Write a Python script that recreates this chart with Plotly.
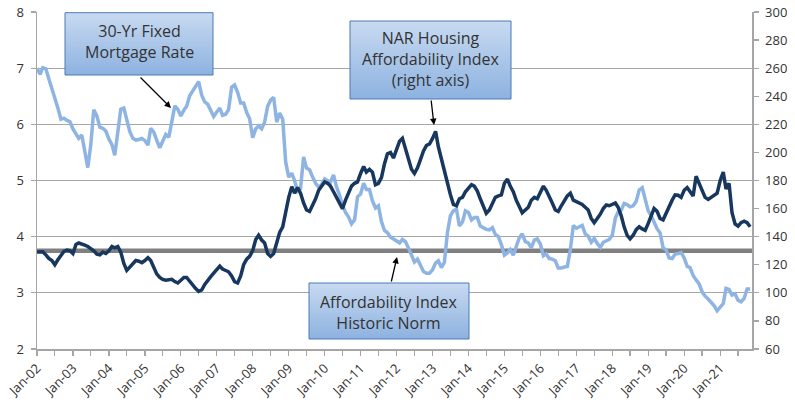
import pandas as pd
import plotly.graph_objects as go

# ---------------- data ----------------
START_MONTH = "2002-01-01"

MORTGAGE_RATE = [
    7.00, 6.89, 7.01, 6.99, 6.81, 6.65, 6.49, 6.29, 6.09, 6.11, 6.07, 6.05,   # 2002
    5.92, 5.84, 5.75, 5.81, 5.48, 5.23, 5.63, 6.26, 6.15, 5.95, 5.93, 5.88,   # 2003
    5.74, 5.64, 5.45, 5.83, 6.27, 6.29, 6.06, 5.87, 5.75, 5.72, 5.73, 5.75,   # 2004
    5.71, 5.63, 5.93, 5.86, 5.72, 5.58, 5.70, 5.82, 5.77, 6.07, 6.33, 6.27,   # 2005
    6.15, 6.25, 6.32, 6.51, 6.60, 6.68, 6.76, 6.52, 6.40, 6.36, 6.24, 6.14,   # 2006
    6.22, 6.29, 6.16, 6.18, 6.26, 6.66, 6.70, 6.57, 6.38, 6.38, 6.21, 6.10,   # 2007
    5.76, 5.92, 5.97, 5.92, 6.04, 6.32, 6.43, 6.48, 6.04, 6.20, 6.09, 5.33,   # 2008
    5.06, 5.13, 5.00, 4.81, 4.86, 5.42, 5.22, 5.19, 5.06, 4.95, 4.88, 4.93,   # 2009
    5.03, 4.99, 4.97, 5.10, 4.89, 4.74, 4.56, 4.43, 4.35, 4.23, 4.30, 4.71,   # 2010
    4.76, 4.95, 4.84, 4.84, 4.64, 4.51, 4.55, 4.27, 4.11, 4.07, 3.99, 3.96,   # 2011
    3.92, 3.89, 3.95, 3.91, 3.80, 3.68, 3.55, 3.60, 3.50, 3.38, 3.35, 3.35,   # 2012
    3.41, 3.53, 3.57, 3.45, 3.54, 4.07, 4.37, 4.46, 4.49, 4.19, 4.26, 4.46,   # 2013
    4.43, 4.30, 4.34, 4.34, 4.19, 4.16, 4.13, 4.12, 4.16, 4.04, 4.00, 3.86,   # 2014
    3.67, 3.71, 3.77, 3.67, 3.84, 3.98, 4.05, 3.91, 3.89, 3.80, 3.94, 3.96,   # 2015
    3.87, 3.66, 3.69, 3.61, 3.60, 3.57, 3.44, 3.44, 3.46, 3.47, 3.77, 4.20,   # 2016
    4.15, 4.17, 4.20, 4.05, 4.01, 3.90, 3.97, 3.88, 3.81, 3.90, 3.92, 3.95,   # 2017
    4.03, 4.33, 4.44, 4.47, 4.59, 4.57, 4.53, 4.55, 4.63, 4.83, 4.87, 4.64,   # 2018
    4.46, 4.37, 4.27, 4.14, 4.07, 3.80, 3.77, 3.62, 3.61, 3.69, 3.70, 3.72,   # 2019
    3.62, 3.47, 3.45, 3.31, 3.23, 3.16, 3.02, 2.94, 2.89, 2.83, 2.77, 2.68,   # 2020
    2.74, 2.81, 3.08, 3.06, 2.96, 2.98, 2.87, 2.84, 2.90, 3.07, 3.07,         # 2021
]

AFFORDABILITY_INDEX = [
    129, 129, 129.3, 127, 124.5, 123, 120, 123.5, 126.5, 129.5, 130.5, 130,   # 2002
    128, 134.5, 135.5, 135, 134, 133, 131.5, 130, 127.5, 127, 129, 128,       # 2003
    130, 133, 132, 133, 129, 121, 116, 118.6, 121, 123, 122.5, 121.5,         # 2004
    123, 125, 123, 118, 113.5, 111, 109.5, 109, 109.3, 109.6, 108, 107,       # 2005
    109, 111, 111, 108, 105, 103, 101, 102, 106, 109, 111.5, 114,             # 2006
    117, 119, 117, 116, 115, 112, 108, 107, 112, 120, 124, 126,               # 2007
    130, 138, 141, 137.6, 135.5, 128, 126, 128, 136, 143, 147, 158,           # 2008
    168, 175.6, 171, 175, 171, 164, 159, 158, 162, 167, 173, 176,             # 2009
    179, 178, 176, 172, 168, 164, 160, 166, 171, 176, 178, 179,               # 2010
    185, 190, 186, 188, 186, 177, 178, 182, 192, 199, 200, 196,               # 2011
    202, 208, 210, 203, 196, 188, 185, 189, 195, 201, 205, 206,               # 2012
    210, 215, 204, 195, 186, 178, 170, 163, 162, 167, 168, 172,               # 2013
    175, 177, 176, 172.5, 167, 162, 156.6, 159, 164, 168, 169, 169.7,         # 2014
    178, 181, 176, 172, 166, 161, 157, 159, 161, 166, 168, 167,               # 2015
    171, 176, 173, 169, 164, 159, 158, 162, 166, 169, 171, 166,               # 2016
    165, 164, 163, 161, 159, 153, 150, 153, 156, 160, 162.5, 162,             # 2017
    163, 164, 161, 155, 147, 141, 138.5, 141, 145, 147, 145.5, 144.5,         # 2018
    149.5, 156, 160, 158, 153, 152, 157, 162, 166, 169.7, 169.5, 168,         # 2019
    173, 175, 172, 169, 183, 178, 173, 168, 166.5, 168, 169, 171,             # 2020
    180, 186, 174, 178, 157, 149, 147.5, 150, 151, 150, 147,                  # 2021
]

HISTORIC_NORM = 130  # right axis

X_RANGE = ["2002-01-01", "2021-11-20"]
LEFT_RANGE = [2, 8]
RIGHT_RANGE = [60, 300]

MONTHS = pd.date_range(START_MONTH, periods=len(MORTGAGE_RATE), freq="MS")

# ---------------- styling ----------------
DARK = "#17375E"
LIGHT = "#8DB4E2"
NORM_GRAY = "#808080"
GRID = "#A6A6A6"
TEXT = "#333333"
FONT = "Open Sans"

W, H = 795, 403
ML, MR, MT, MB = 37, 43, 12, 54

fig = go.Figure()

fig.add_trace(go.Scatter(
    x=MONTHS, y=MORTGAGE_RATE, mode="lines",
    line=dict(color=LIGHT, width=3.5), name="30-Yr Fixed Mortgage Rate",
    hoverinfo="skip"))

fig.add_trace(go.Scatter(
    x=MONTHS, y=AFFORDABILITY_INDEX, mode="lines", yaxis="y2",
    line=dict(color=DARK, width=3.5), name="NAR Housing Affordability Index",
    hoverinfo="skip"))

fig.add_shape(type="line", xref="paper", x0=0, x1=1, yref="y2",
              y0=HISTORIC_NORM, y1=HISTORIC_NORM,
              line=dict(color=NORM_GRAY, width=4.5), layer="below")

# --- callout boxes drawn in an overlay pixel space (x: px from left, y: px from bottom)
BOXES = [
    dict(x0=65, x1=213, y0=403 - 75, y1=403 - 12.7),
    dict(x0=350, x1=511, y0=403 - 99, y1=403 - 21),
    dict(x0=309, x1=469, y0=403 - 339, y1=403 - 283),
]
for b in BOXES:
    fig.add_trace(go.Scatter(
        x=[b["x0"], b["x1"], b["x1"], b["x0"], b["x0"]],
        y=[b["y0"], b["y0"], b["y1"], b["y1"], b["y0"]],
        xaxis="x3", yaxis="y3", mode="lines", fill="toself",
        fillgradient=dict(type="vertical",
                          colorscale=[[0, "#8DB2E0"], [1, "#C8DAF1"]]),
        line=dict(color="#4A7AB5", width=1), hoverinfo="skip",
        showlegend=False, cliponaxis=False))

LABELS = [
    ("30-Yr Fixed<br>Mortgage Rate", 139, 403 - 41.5),
    ("NAR Housing<br>Affordability Index<br>(right axis)", 430.5, 403 - 58.5),
    ("Affordability Index<br>Historic Norm", 389, 403 - 312),
]
annotations = []
for t, x, y in LABELS:
    annotations.append(dict(text=t, x=x, y=y, xref="x3", yref="y3",
                            showarrow=False, xanchor="center", yanchor="middle",
                            align="center",
                            font=dict(family=FONT, size=16, color=TEXT)))

ARROWS = [  # (head x, head y, tail x, tail y)
    (171, 403 - 108, 139, 403 - 76),
    (434, 403 - 125, 431, 403 - 99),
    (397, 403 - 257, 391, 403 - 283),
]
for hx, hy, tx, ty in ARROWS:
    annotations.append(dict(text="", x=hx, y=hy, xref="x3", yref="y3",
                            ax=tx, ay=ty, axref="x3", ayref="y3",
                            showarrow=True, arrowhead=2, arrowsize=1,
                            arrowwidth=1.3, arrowcolor="#000000",
                            standoff=0, startstandoff=0))

tickfont = dict(family=FONT, size=13, color=TEXT)

fig.update_layout(
    width=W, height=H,
    margin=dict(l=ML, r=MR, t=MT, b=MB, pad=0, autoexpand=False),
    paper_bgcolor="white", plot_bgcolor="white",
    showlegend=False,
    annotations=annotations,
    xaxis=dict(
        type="date", range=X_RANGE, tick0="2002-01-01", dtick="M12",
        tickformat="%b-%y", tickangle=-45, tickfont=tickfont,
        showgrid=False, showline=True, linecolor=GRID, linewidth=1.5,
        ticks="outside", ticklen=5, tickcolor=GRID, tickwidth=1.3,
        minor=dict(dtick="M6", tick0="2002-01-01", ticks="outside",
                   ticklen=5, tickcolor=GRID, tickwidth=1.3, showgrid=False),
        zeroline=False, fixedrange=True, automargin=False),
    yaxis=dict(
        range=LEFT_RANGE, dtick=1, tickfont=tickfont,
        showgrid=True, gridcolor=GRID, gridwidth=1.3,
        showline=True, linecolor=GRID, linewidth=1.5,
        ticks="outside", ticklen=5, tickcolor=GRID, tickwidth=1.3,
        ticklabelstandoff=4,
        zeroline=False, fixedrange=True, automargin=False),
    yaxis2=dict(
        range=RIGHT_RANGE, dtick=20, overlaying="y", side="right",
        anchor="x", tickfont=tickfont, showgrid=False,
        showline=True, linecolor=GRID, linewidth=1.5,
        ticks="outside", ticklen=5, tickcolor=GRID, tickwidth=1.3,
        ticklabelstandoff=4,
        zeroline=False, fixedrange=True, automargin=False),
    xaxis3=dict(overlaying="x", anchor="y3", range=[ML, W - MR],
                visible=False, fixedrange=True, automargin=False),
    yaxis3=dict(overlaying="y", anchor="x3", range=[MB, H - MT],
                visible=False, fixedrange=True, automargin=False),
)

fig.write_html(
    "out.html",
    config={"displayModeBar": False, "staticPlot": True},
    post_script="document.body.style.margin='0';"
                "document.body.style.padding='0';"
                "document.body.style.overflow='hidden';",
)
